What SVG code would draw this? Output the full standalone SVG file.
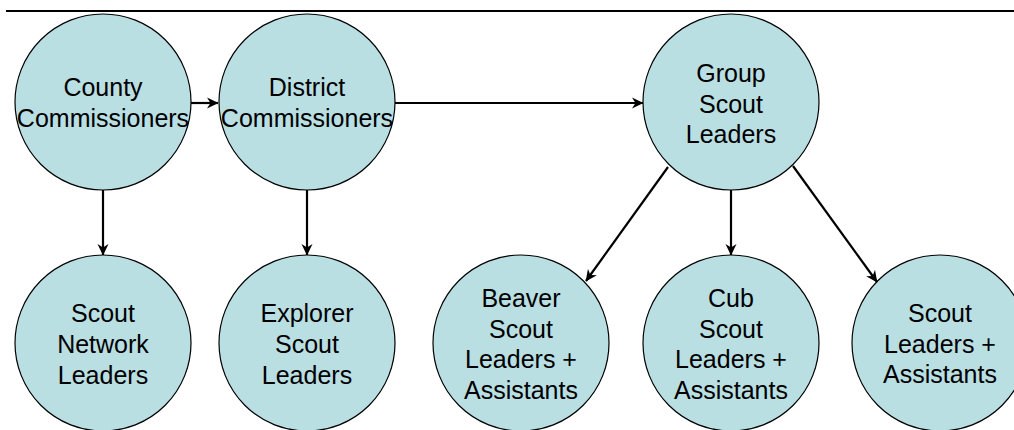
<svg xmlns="http://www.w3.org/2000/svg" width="1014" height="430" viewBox="0 0 1014 430">
<style>
.node{fill:#B9DFE3;stroke:#000;stroke-width:1.2}
.lbl{font-family:"Liberation Sans",Arial,sans-serif;font-size:25px;fill:#000;text-anchor:middle}
.edge{stroke:#000;stroke-width:2.2;fill:none;marker-end:url(#arr)}
</style>
<defs>
<marker id="arr" markerUnits="userSpaceOnUse" markerWidth="12" markerHeight="12" viewBox="0 0 12 12" refX="11" refY="6" orient="auto">
<path d="M0,0.5 L11.5,6 L0,11.5 L3.5,6 Z" fill="#000"/>
</marker>
</defs>
<rect width="1014" height="430" fill="#fff"/>
<line x1="6" y1="11" x2="1014" y2="11" stroke="#000" stroke-width="2"/>
<g id="n-county"><circle class="node" cx="103" cy="102" r="88"/><text class="lbl" x="103"><tspan x="103" y="96">County</tspan><tspan x="103" y="127">Commissioners</tspan></text></g>
<g id="n-district"><circle class="node" cx="307" cy="102" r="88"/><text class="lbl"><tspan x="307" y="96">District</tspan><tspan x="307" y="127">Commissioners</tspan></text></g>
<g id="n-group"><circle class="node" cx="731" cy="102" r="88"/><text class="lbl"><tspan x="731" y="82">Group</tspan><tspan x="731" y="112.5">Scout</tspan><tspan x="731" y="143">Leaders</tspan></text></g>
<g id="n-network"><circle class="node" cx="103" cy="343" r="88"/><text class="lbl"><tspan x="103" y="322">Scout</tspan><tspan x="103" y="353">Network</tspan><tspan x="103" y="384">Leaders</tspan></text></g>
<g id="n-explorer"><circle class="node" cx="307" cy="343" r="88"/><text class="lbl"><tspan x="307" y="322">Explorer</tspan><tspan x="307" y="353">Scout</tspan><tspan x="307" y="384">Leaders</tspan></text></g>
<g id="n-beaver"><circle class="node" cx="521" cy="343" r="88"/><text class="lbl"><tspan x="521" y="307">Beaver</tspan><tspan x="521" y="337.5">Scout</tspan><tspan x="521" y="368">Leaders +</tspan><tspan x="521" y="398.5">Assistants</tspan></text></g>
<g id="n-cub"><circle class="node" cx="731" cy="343" r="88"/><text class="lbl"><tspan x="731" y="307">Cub</tspan><tspan x="731" y="337.5">Scout</tspan><tspan x="731" y="368">Leaders +</tspan><tspan x="731" y="398.5">Assistants</tspan></text></g>
<g id="n-scout"><circle class="node" cx="940" cy="343" r="88"/><text class="lbl"><tspan x="940" y="322">Scout</tspan><tspan x="940" y="352.5">Leaders +</tspan><tspan x="940" y="383">Assistants</tspan></text></g>
<g id="connectors">
<line class="edge" x1="191" y1="103" x2="218" y2="103"/>
<line class="edge" x1="395" y1="103" x2="643" y2="103"/>
<line class="edge" x1="103" y1="190" x2="103" y2="255"/>
<line class="edge" x1="307" y1="190" x2="307" y2="255"/>
<line class="edge" x1="668" y1="167" x2="586" y2="281"/>
<line class="edge" x1="731" y1="190" x2="731" y2="255"/>
<line class="edge" x1="793" y1="166" x2="877" y2="282"/>
</g>
</svg>
